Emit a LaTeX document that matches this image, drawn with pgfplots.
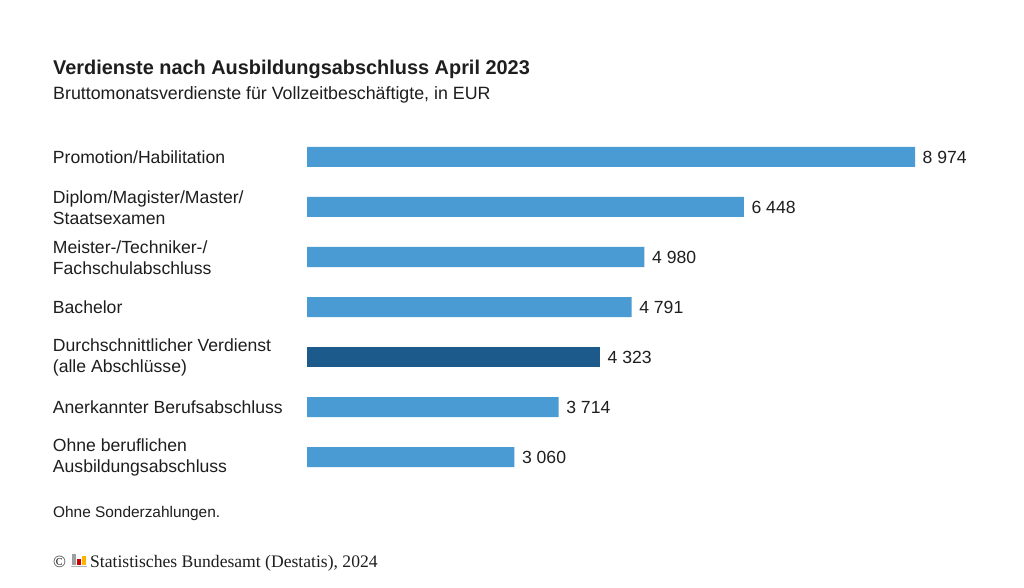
\documentclass[border=0pt]{standalone}
\usepackage{fontspec}
\setmainfont{Liberation Sans}
\newfontfamily\seriffont{Liberation Serif}
\usepackage{pgfplots}
\pgfplotsset{compat=1.18}
\definecolor{barblue}{HTML}{4A9BD4}
\definecolor{bardark}{HTML}{1C5A8C}
\definecolor{txt}{HTML}{1E1E1E}
\begin{document}
\begin{tikzpicture}[x=1pt,y=1pt]
\fill[white] (0,0) rectangle (1024,587);
\begin{axis}[
  at={(307pt,105pt)}, anchor=south west,
  scale only axis, width=608pt, height=350pt,
  xmin=0, xmax=8974, ymin=-0.5, ymax=6.5,
  xbar, bar width=20pt, bar shift=0pt,
  axis line style={draw=none}, tick style={draw=none},
  xtick=\empty,
  ytick={0,1,2,3,4,5,6},
  yticklabels={{Ohne beruflichen\\Ausbildungsabschluss},{Anerkannter Berufsabschluss},{Durchschnittlicher Verdienst\\(alle Abschlüsse)},{Bachelor},{Meister-/Techniker-/\\Fachschulabschluss},{Diplom/Magister/Master/\\Staatsexamen},{Promotion/Habilitation}},
  yticklabel style={anchor=west, align=left, inner sep=0pt, xshift=-250pt, yshift=-0.5pt, font=\fontsize{17.6}{21}\selectfont, text=txt},
  clip=false,
  point meta=x,
  nodes near coords,
  every node near coord/.append style={font=\fontsize{17.6}{20}\selectfont, text=txt, inner sep=0pt, xshift=7.5pt},
  /pgf/number format/1000 sep={\ },
  /pgf/number format/assume math mode=true,
]
\addplot[fill=barblue, draw=none] coordinates {(3060,0) (3714,1) (4791,3) (4980,4) (6448,5) (8974,6)};
\addplot[fill=bardark, draw=none] coordinates {(4323,2)};
\end{axis}
\node[anchor=base west, inner sep=0pt, text=txt] at (53,512.5) {\fontsize{19.9}{23}\selectfont\bfseries Verdienste nach Ausbildungsabschluss April 2023};
\node[anchor=base west, inner sep=0pt, text=txt] at (53,487) {\fontsize{17.8}{21}\selectfont Bruttomonatsverdienste für Vollzeitbeschäftigte, in EUR};
\node[anchor=base west, inner sep=0pt, text=txt] at (53,70) {\fontsize{15.4}{18}\selectfont Ohne Sonderzahlungen.};
\node[anchor=base west, inner sep=0pt, text=txt] at (53,20) {\fontsize{17}{19}\selectfont\seriffont ©};
\fill[gray!60] (70.5,20) rectangle (86.5,21.2);
\fill[gray!75] (72,22) rectangle (75.5,33);
\fill[red!80!black] (77,22) rectangle (80.5,28);
\fill[orange!60!yellow] (82,22) rectangle (85.5,31);
\node[anchor=base west, inner sep=0pt, text=txt] at (90,20) {\fontsize{17.6}{20}\selectfont\seriffont Statistisches Bundesamt (Destatis), 2024};
\end{tikzpicture}
\end{document}
